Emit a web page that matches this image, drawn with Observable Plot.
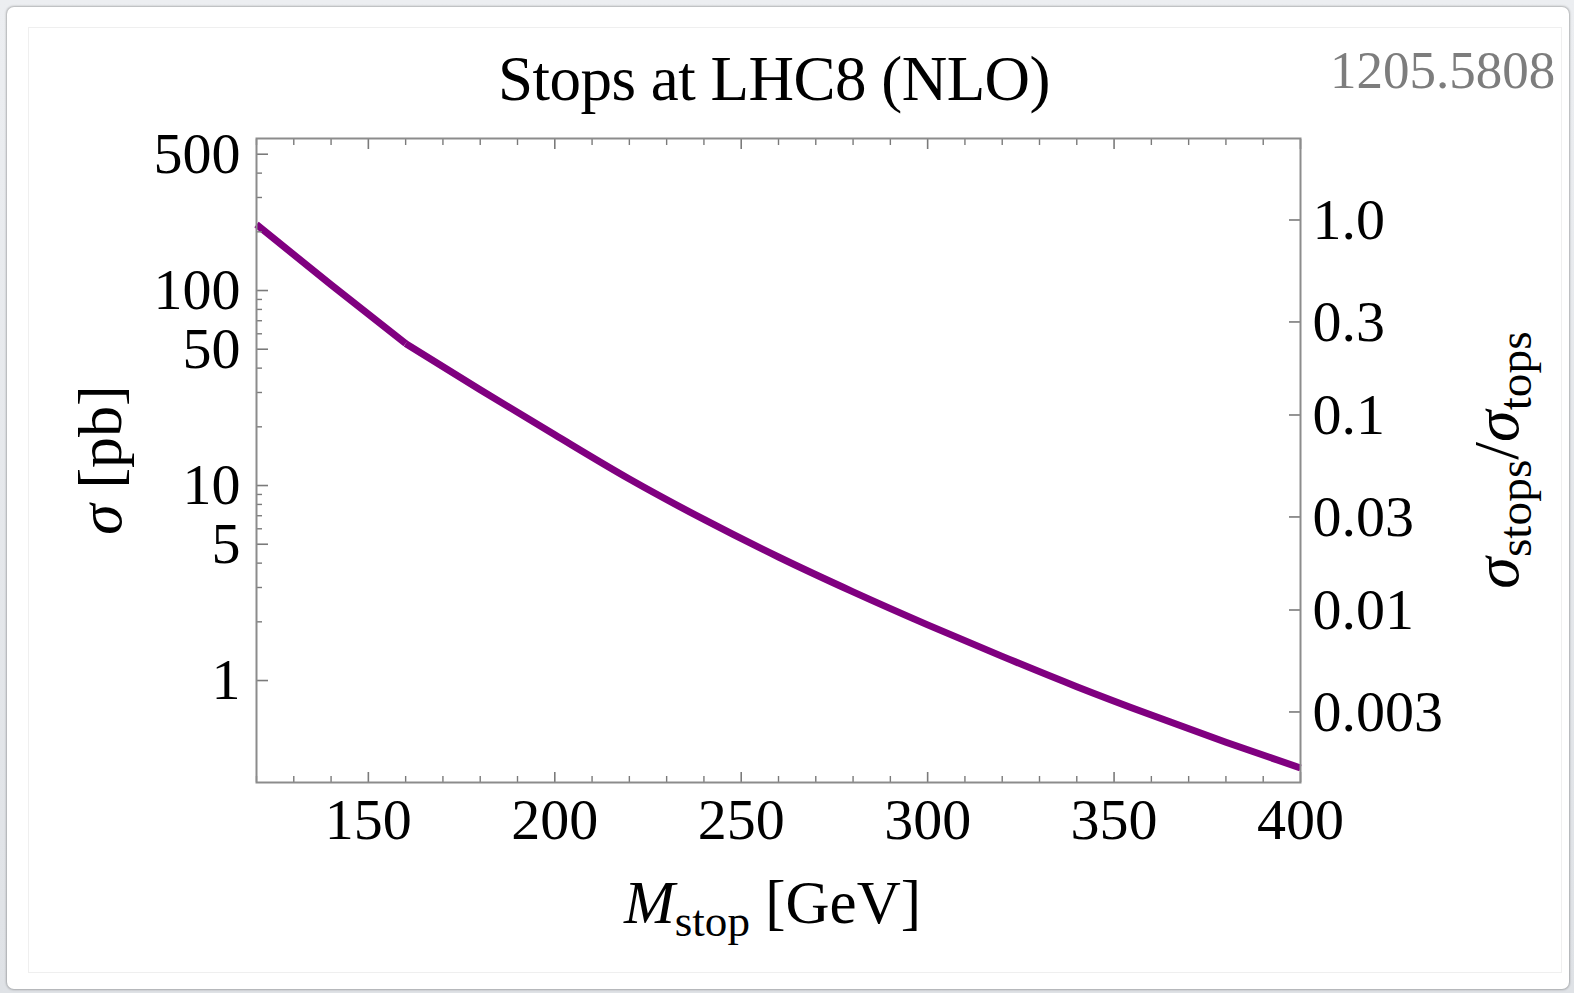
<!DOCTYPE html>
<html>
<head>
<meta charset="utf-8">
<script src="https://cdn.jsdelivr.net/npm/d3@7"></script>
<script src="https://cdn.jsdelivr.net/npm/@observablehq/plot@0.6"></script>
<style>
  html, body { margin: 0; padding: 0; }
  body {
    width: 1574px; height: 993px; position: relative; overflow: hidden;
    background: linear-gradient(#eceef1, #dfe2e6);
    font-family: "Liberation Serif", "Times New Roman", serif;
  }
  #panel {
    position: absolute; left: 7px; top: 7px; width: 1562px; height: 982px;
    background: #fff; border-radius: 7px;
    box-shadow: 0 0 2px 1px rgba(0,0,0,0.25);
  }
  #inner {
    position: absolute; left: 28px; top: 27px; width: 1532px; height: 944px;
    border: 1px solid #efefef;
  }
  #chart { position: absolute; left: 0; top: 120px; }
  .t { position: absolute; white-space: nowrap; color: #000; line-height: 1; }
  .rot { transform: translate(-50%, -50%) rotate(-90deg); transform-origin: center; }
  sub { font-size: 0.74em; vertical-align: -0.28em; line-height: 0; }
</style>
</head>
<body>
<div id="panel"></div>
<div id="inner"></div>
<div class="t" id="title" style="left:0;width:1548px;text-align:center;top:48px;font-size:63px;letter-spacing:-0.5px;">Stops at LHC8 (NLO)</div>
<div class="t" id="ref" style="left:1330px;top:44px;font-size:53px;color:#7d7d7d;">1205.5808</div>
<div class="t" id="xlabel" style="left:0;width:1545px;text-align:center;top:872px;font-size:61px;"><i>M</i><sub>stop</sub> [GeV]</div>
<div class="t rot" id="ylabel" style="left:100px;top:460px;font-size:62px;"><i>σ</i> [pb]</div>
<div class="t rot" id="y2label" style="left:1497px;top:460px;font-size:64px;"><i>σ</i><sub>stops</sub>/<i>σ</i><sub>tops</sub></div>
<div id="chart"></div>
<script>
// Stop pair cross section at LHC 8 TeV (NLO)
const mass  = [120, 140, 160, 180, 200, 220, 240, 260, 280, 300, 320, 340, 360, 380, 400];
const sigma = [218, 107, 53.5, 31, 18.2, 10.8, 6.7, 4.3, 2.85, 1.93, 1.33, 0.93, 0.665, 0.483, 0.356];
const sigmaTops = 230; // pb, normalisation of the right-hand axis

const xMajor = [150, 200, 250, 300, 350, 400];
const xMinor = [120, 130, 140, 160, 170, 180, 190, 210, 220, 230, 240, 260, 270, 280, 290, 310, 320, 330, 340, 360, 370, 380, 390];
const yMajor = [1, 5, 10, 50, 100, 500];
const yMajorLabels = ["1", "5", "10", "50", "100", "500"];
const yMinor = [2, 3, 4, 6, 7, 8, 9, 20, 30, 40, 60, 70, 80, 90, 200, 300, 400];
const ratioTicks = [1.0, 0.3, 0.1, 0.03, 0.01, 0.003];
const ratioLabels = ["1.0", "0.3", "0.1", "0.03", "0.01", "0.003"];

const data = mass.map((m, i) => ({m, s: sigma[i]}));
const steep = data.filter(d => d.m <= 160);
const smooth = data.filter(d => d.m >= 160);
const ratioData = ratioTicks.map((r, i) => ({pos: r * sigmaTops, label: ratioLabels[i]}));
const ratioPos = ratioData.map(d => d.pos);
const yLabelData = yMajor.map((v, i) => ({v, label: yMajorLabels[i]}));

const tickColor = "#7a7a7a";
const fs = 58;
const purple = "#800080";

const chart = Plot.plot({
  width: 1574, height: 830,
  marginLeft: 256, marginRight: 274, marginTop: 18, marginBottom: 168,
  style: {fontFamily: "'Liberation Serif', 'Times New Roman', serif", background: "transparent", overflow: "visible", color: "#000"},
  x: {domain: [120, 400]},
  y: {type: "log", domain: [0.3, 602]},
  marks: [
    Plot.line(steep, {x: "m", y: "s", stroke: purple, strokeWidth: 7, strokeLinejoin: "round", strokeLinecap: "butt"}),
    Plot.line(smooth, {x: "m", y: "s", stroke: purple, strokeWidth: 7, strokeLinejoin: "round", strokeLinecap: "butt", curve: "monotone-x"}),
    // tick marks pointing inward
    Plot.axisX(xMajor, {anchor: "bottom", tickSize: 10, dy: -10, tickFormat: () => "", label: null, stroke: tickColor, strokeWidth: 1.6}),
    Plot.axisX(xMinor, {anchor: "bottom", tickSize: 6, dy: -6, tickFormat: () => "", label: null, stroke: tickColor, strokeWidth: 1.4}),
    Plot.axisX(xMajor, {anchor: "top", tickSize: 10, dy: 10, tickFormat: () => "", label: null, stroke: tickColor, strokeWidth: 1.6}),
    Plot.axisX(xMinor, {anchor: "top", tickSize: 6, dy: 6, tickFormat: () => "", label: null, stroke: tickColor, strokeWidth: 1.4}),
    Plot.axisY(yMajor, {anchor: "left", tickSize: 12, dx: 12, tickFormat: () => "", label: null, stroke: tickColor, strokeWidth: 1.6}),
    Plot.axisY(yMinor, {anchor: "left", tickSize: 6, dx: 6, tickFormat: () => "", label: null, stroke: tickColor, strokeWidth: 1.4}),
    Plot.axisY(ratioPos, {anchor: "right", tickSize: 12, dx: -12, tickFormat: () => "", label: null, stroke: tickColor, strokeWidth: 1.6}),
    // tick labels
    Plot.axisX(xMajor, {anchor: "bottom", tickSize: 0, tickPadding: 15, fontSize: fs, label: null, tickFormat: d => String(d)}),
    Plot.text(yLabelData, {y: "v", text: "label", frameAnchor: "left", dx: -16, textAnchor: "end", lineAnchor: "middle", fontSize: fs, fill: "#000"}),
    Plot.text(ratioData, {y: "pos", text: "label", frameAnchor: "right", dx: 12, textAnchor: "start", lineAnchor: "middle", fontSize: fs, fill: "#000"}),
    Plot.frame({stroke: "#8c8c8c", strokeWidth: 2})
  ]
});
document.getElementById("chart").appendChild(chart);
</script>
</body>
</html>
